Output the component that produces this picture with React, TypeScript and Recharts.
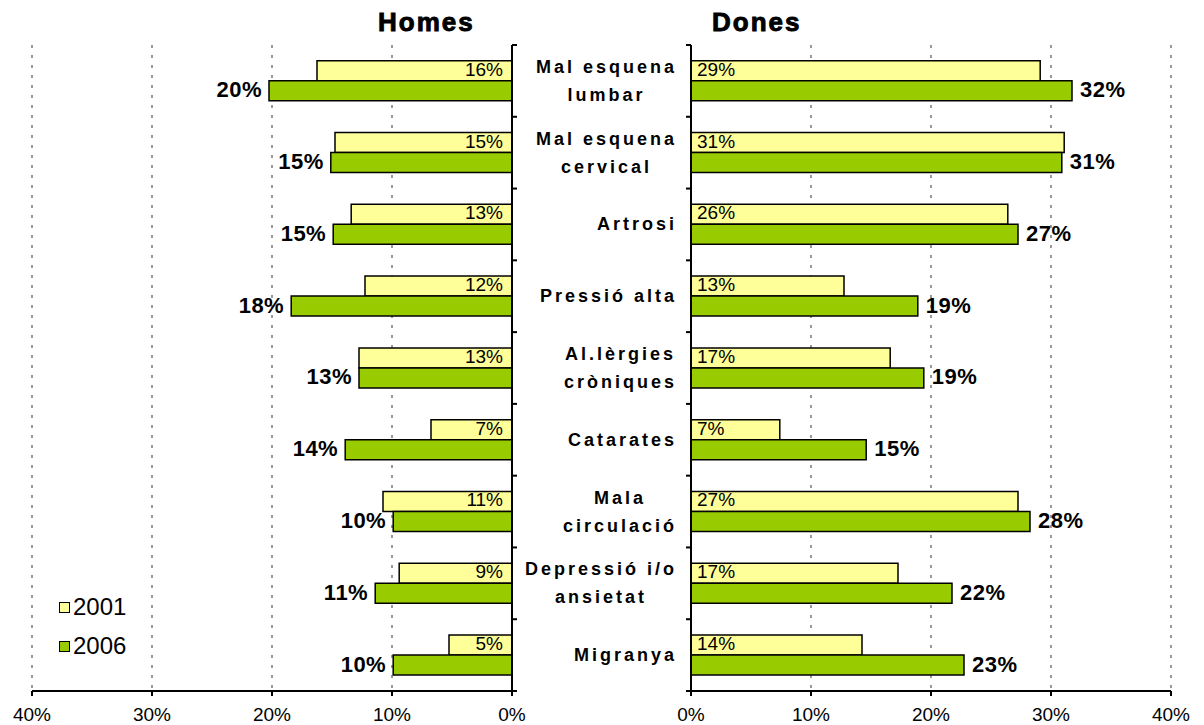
import React from "react";
import { BarChart, Bar, XAxis, YAxis, CartesianGrid, LabelList } from "recharts";

const categories = [
  "Mal esquena\nlumbar",
  "Mal esquena\ncervical",
  "Artrosi",
  "Pressió alta",
  "Al.lèrgies\ncròniques",
  "Catarates",
  "Mala\ncirculació",
  "Depressió i/o\nansietat",
  "Migranya",
];
const homes2001 = [16.25, 14.75, 13.4, 12.25, 12.75, 6.75, 10.75, 9.4, 5.25];
const homes2006 = [20.25, 15.1, 14.9, 18.4, 12.75, 13.9, 9.9, 11.4, 9.9];
const dones2001 = [29.1, 31.1, 26.4, 12.75, 16.6, 7.4, 27.25, 17.25, 14.25];
const dones2006 = [31.75, 30.9, 27.25, 18.9, 19.4, 14.6, 28.25, 21.75, 22.75];
const xTicks = [0, 10, 20, 30, 40];
const years = ["2001", "2006"];
const panelTitles = ["Homes", "Dones"];

const YELLOW = "#FFFF99";
const GREEN = "#99CC00";
const FONT = "Arial, 'Liberation Sans', sans-serif";
const PLOT_TOP = 45;
const PLOT_H = 646;
const X_AXIS_H = 34;
const CHART_H = PLOT_TOP + PLOT_H + X_AXIS_H;
const BAND = PLOT_H / categories.length;
const LINE_H = 28;
const CAT_FONT = 18;
const CAT_SPACING = 3;

const homesData = categories.map((name, i) => ({ name, y2001: homes2001[i], y2006: homes2006[i] }));
const donesData = categories.map((name, i) => ({ name, y2001: dones2001[i], y2006: dones2006[i] }));

let ctx: CanvasRenderingContext2D | null = null;
function measure(s: string) {
  if (!ctx) ctx = document.createElement("canvas").getContext("2d");
  if (!ctx) return s.length * 11;
  ctx.font = `bold ${CAT_FONT}px Arial, 'Liberation Sans'`;
  return ctx.measureText(s).width + CAT_SPACING * s.length;
}

function box(p: any) {
  const v = p.viewBox || p;
  const x = Number(v.x), w = Number(v.width);
  return { left: Math.min(x, x + w), right: Math.max(x, x + w), y: Number(v.y), h: Number(v.height) };
}

const pct = (v: any) => `${Math.round(Number(v))}%`;

// left panel: bars grow to the left
const homesInner = (p: any) => {
  const b = box(p);
  return (
    <text x={b.right - 9} y={b.y + b.h / 2 - 1.5} textAnchor="end" dominantBaseline="central"
      fontSize={19} fontFamily={FONT} fill="#000">{pct(p.value)}</text>
  );
};
const homesOuter = (p: any) => {
  const b = box(p);
  return (
    <text x={b.left - 7} y={b.y + b.h / 2 - 1} textAnchor="end" dominantBaseline="central"
      fontSize={22} fontWeight="bold" letterSpacing={0.5} fontFamily={FONT} fill="#000">{pct(p.value)}</text>
  );
};
const donesInner = (p: any) => {
  const b = box(p);
  return (
    <text x={b.left + 6} y={b.y + b.h / 2 - 1.5} textAnchor="start" dominantBaseline="central"
      fontSize={19} fontFamily={FONT} fill="#000">{pct(p.value)}</text>
  );
};
const donesOuter = (p: any) => {
  const b = box(p);
  return (
    <text x={b.right + 8} y={b.y + b.h / 2 - 1} textAnchor="start" dominantBaseline="central"
      fontSize={22} fontWeight="bold" letterSpacing={0.5} fontFamily={FONT} fill="#000">{pct(p.value)}</text>
  );
};

const LeftTick = (props: any) => {
  const { x, y, index } = props;
  return (
    <g>
      <line x1={x} x2={x + 5} y1={y - BAND / 2} y2={y - BAND / 2} stroke="#000" strokeWidth={2} />
      {index === categories.length - 1 && (
        <line x1={x} x2={x + 5} y1={y + BAND / 2} y2={y + BAND / 2} stroke="#000" strokeWidth={2} />
      )}
    </g>
  );
};

const RightTick = (props: any) => {
  const { x, y, index, payload } = props;
  const lines = String(payload.value).split("\n");
  const maxW = Math.max(...lines.map(measure));
  const cx = x - 14 - maxW / 2;
  const top = y - ((lines.length - 1) * LINE_H) / 2;
  return (
    <g>
      <line x1={x} x2={x - 5} y1={y - BAND / 2} y2={y - BAND / 2} stroke="#000" strokeWidth={2} />
      {index === categories.length - 1 && (
        <line x1={x} x2={x - 5} y1={y + BAND / 2} y2={y + BAND / 2} stroke="#000" strokeWidth={2} />
      )}
      {lines.map((l, i) => (
        <text key={i} x={cx} y={top + i * LINE_H} textAnchor="middle" dominantBaseline="central"
          fontSize={CAT_FONT} fontWeight="bold" letterSpacing={CAT_SPACING} fontFamily={FONT} fill="#000">
          {l}
        </text>
      ))}
    </g>
  );
};

const axisTick = { fontSize: 19, fontFamily: FONT, fill: "#000" };

export default function App() {
  return (
    <div style={{ position: "absolute", left: 0, top: 0, width: 1204, height: 725, background: "#fff", overflow: "hidden" }}>
      <div style={{ position: "absolute", left: 0, top: 0 }}>
        <BarChart width={530} height={CHART_H} data={homesData} layout="vertical"
          margin={{ top: PLOT_TOP, right: 0, bottom: 0, left: 32 }} barCategoryGap="22%" barGap={0}>
          <CartesianGrid horizontal={false} stroke="#999" strokeWidth={2} strokeDasharray="3 7" />
          <XAxis type="number" domain={[0, 40]} ticks={xTicks} reversed height={X_AXIS_H}
            tickFormatter={(v) => `${v}%`} tick={axisTick} tickSize={5} tickMargin={12}
            axisLine={{ stroke: "#000", strokeWidth: 2 }} tickLine={{ stroke: "#000", strokeWidth: 2 }} />
          <YAxis type="category" dataKey="name" orientation="right" width={18} interval={0}
            tickSize={0} tickMargin={0} tickLine={false} tick={<LeftTick />}
            axisLine={{ stroke: "#000", strokeWidth: 2 }} />
          <Bar dataKey="y2001" fill={YELLOW} stroke="#000" strokeWidth={1.5} isAnimationActive={false}>
            <LabelList dataKey="y2001" content={homesInner} />
          </Bar>
          <Bar dataKey="y2006" fill={GREEN} stroke="#000" strokeWidth={1.5} isAnimationActive={false}>
            <LabelList dataKey="y2006" content={homesOuter} />
          </Bar>
        </BarChart>
      </div>
      <div style={{ position: "absolute", left: 517, top: 0 }}>
        <BarChart width={687} height={CHART_H} data={donesData} layout="vertical"
          margin={{ top: PLOT_TOP, right: 33, bottom: 0, left: 0 }} barCategoryGap="22%" barGap={0}>
          <CartesianGrid horizontal={false} stroke="#999" strokeWidth={2} strokeDasharray="3 7" />
          <XAxis type="number" domain={[0, 40]} ticks={xTicks} height={X_AXIS_H}
            tickFormatter={(v) => `${v}%`} tick={axisTick} tickSize={5} tickMargin={12}
            axisLine={{ stroke: "#000", strokeWidth: 2 }} tickLine={{ stroke: "#000", strokeWidth: 2 }} />
          <YAxis type="category" dataKey="name" orientation="left" width={174} interval={0}
            tickSize={0} tickMargin={0} tickLine={false} tick={<RightTick />}
            axisLine={{ stroke: "#000", strokeWidth: 2 }} />
          <Bar dataKey="y2001" fill={YELLOW} stroke="#000" strokeWidth={1.5} isAnimationActive={false}>
            <LabelList dataKey="y2001" content={donesInner} />
          </Bar>
          <Bar dataKey="y2006" fill={GREEN} stroke="#000" strokeWidth={1.5} isAnimationActive={false}>
            <LabelList dataKey="y2006" content={donesOuter} />
          </Bar>
        </BarChart>
      </div>
      {panelTitles.map((t, i) => (
        <div key={t} style={{
          position: "absolute", top: 6, left: i === 0 ? 378 : 712, width: 120, textAlign: "left",
          fontFamily: FONT, fontWeight: "bold", fontSize: 26, lineHeight: "32px", color: "#000",
          letterSpacing: 2, WebkitTextStroke: "0.9px #000",
        }}>{t}</div>
      ))}
      <div style={{ position: "absolute", left: 59, top: 593, fontFamily: FONT, fontSize: 24, color: "#000" }}>
        {years.map((y, i) => (
          <div key={y} style={{ display: "flex", alignItems: "center", height: 28, marginBottom: i === 0 ? 11 : 0 }}>
            <span style={{ width: 9, height: 9, border: "1.5px solid #000", background: i === 0 ? YELLOW : GREEN, marginRight: 3 }} />
            <span>{y}</span>
          </div>
        ))}
      </div>
    </div>
  );
}
